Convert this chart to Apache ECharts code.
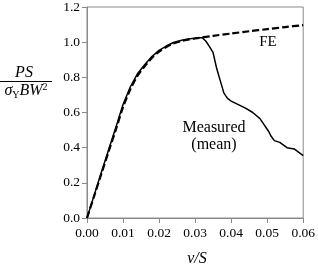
<!DOCTYPE html>
<html><head><meta charset="utf-8">
<script src="https://cdn.jsdelivr.net/npm/echarts@6/dist/echarts.min.js"></script>
<style>html,body{margin:0;padding:0;background:#fff}#c{width:318px;height:269px}</style>
</head><body><div id="c"></div>
<script>
const xTicks = [0, 0.01, 0.02, 0.03, 0.04, 0.05, 0.06];
const yTicks = [0, 0.2, 0.4, 0.6, 0.8, 1.0, 1.2];
const feX = [0, 0.002, 0.004, 0.006, 0.008, 0.010, 0.012, 0.014, 0.016, 0.018, 0.020, 0.022, 0.024, 0.026, 0.028, 0.030, 0.035, 0.040, 0.045, 0.050, 0.055, 0.060];
const feY = [0, 0.126, 0.252, 0.378, 0.502, 0.63, 0.73, 0.808, 0.862, 0.91, 0.946, 0.972, 0.992, 1.005, 1.014, 1.021, 1.036, 1.049, 1.062, 1.074, 1.086, 1.097];
const msX = [0, 0.002, 0.004, 0.006, 0.008, 0.010, 0.012, 0.014, 0.016, 0.018, 0.020, 0.022, 0.024, 0.026, 0.028, 0.030, 0.031, 0.032, 0.033, 0.034, 0.035, 0.036, 0.037, 0.038, 0.039, 0.040, 0.042, 0.044, 0.046, 0.048, 0.049, 0.050, 0.0505, 0.051, 0.052, 0.0535, 0.0555, 0.0575, 0.060];
const msY = [0, 0.13, 0.26, 0.388, 0.515, 0.645, 0.745, 0.82, 0.872, 0.918, 0.953, 0.978, 0.998, 1.01, 1.018, 1.023, 1.025, 1.025, 1.005, 0.975, 0.94, 0.85, 0.78, 0.71, 0.68, 0.665, 0.645, 0.625, 0.6, 0.565, 0.535, 0.505, 0.49, 0.468, 0.44, 0.43, 0.40, 0.393, 0.355];

const F = 'Liberation Serif';
const chart = echarts.init(document.getElementById('c'));
const grey = '#8a8a8a';
chart.setOption({
  animation: false,
  grid: {left: 87, right: 14, top: 5, bottom: 51, show: true, borderColor: grey, borderWidth: 1},
  xAxis: {type: 'value', min: xTicks[0], max: xTicks[xTicks.length-1], interval: 0.01,
    axisLine: {lineStyle: {color: grey}}, axisTick: {show: true, length: 5, lineStyle: {color: grey}},
    splitLine: {show: false},
    axisLabel: {color: '#000', fontFamily: F, fontSize: 13.5, margin: 8, formatter: v => v.toFixed(2)}},
  yAxis: {type: 'value', min: yTicks[0], max: yTicks[yTicks.length-1], interval: 0.2,
    axisLine: {show: true, lineStyle: {color: grey}}, axisTick: {show: true, length: 5, lineStyle: {color: grey}},
    splitLine: {show: false},
    axisLabel: {color: '#000', fontFamily: F, fontSize: 13.5, margin: 7, formatter: v => v.toFixed(1)}},
  series: [
    {type: 'line', data: feX.map((x, i) => [x, feY[i]]), symbol: 'none', smooth: 0.3,
     lineStyle: {color: '#000', width: 2.2, type: [7, 3]}, z: 3},
    {type: 'line', data: msX.map((x, i) => [x, msY[i]]), symbol: 'none',
     lineStyle: {color: '#000', width: 1.5}, z: 2}
  ],
  graphic: [
    {type: 'text', x: 268, y: 42, style: {text: 'FE', font: '15px "Liberation Serif"', fill: '#000', align: 'center', verticalAlign: 'middle'}},
    {type: 'text', x: 214, y: 128, style: {text: 'Measured', font: '16px "Liberation Serif"', fill: '#000', align: 'center', verticalAlign: 'middle'}},
    {type: 'text', x: 214, y: 145, style: {text: '(mean)', font: '16px "Liberation Serif"', fill: '#000', align: 'center', verticalAlign: 'middle'}},
    {type: 'text', x: 197, y: 259, style: {text: 'v/S', font: 'italic 16px "Liberation Serif"', fill: '#000', align: 'center', verticalAlign: 'middle'}},
    {type: 'text', x: 24, y: 73, style: {text: 'PS', font: 'italic 16px "Liberation Serif"', fill: '#000', align: 'center', verticalAlign: 'middle'}},
    {type: 'line', shape: {x1: 0, y1: 81.5, x2: 52, y2: 81.5}, style: {stroke: '#000', lineWidth: 1}},
    {type: 'text', x: 26, y: 91, style: {
      text: '{i|σ}{s|Y}{i|BW}{p|2}', align: 'center', verticalAlign: 'middle', fill: '#000',
      rich: {
        i: {fontFamily: F, fontStyle: 'italic', fontSize: 16, lineHeight: 18, verticalAlign: 'middle'},
        s: {fontFamily: F, fontSize: 10, lineHeight: 18, verticalAlign: 'bottom'},
        p: {fontFamily: F, fontSize: 10, lineHeight: 18, verticalAlign: 'top'}
      }}}
  ]
});
</script></body></html>
